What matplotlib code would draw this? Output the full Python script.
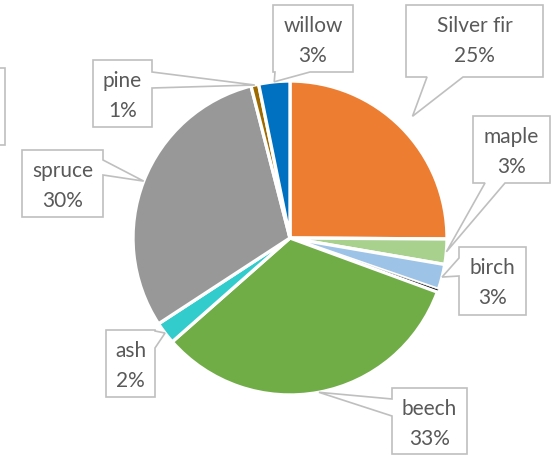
import numpy as np
import matplotlib
matplotlib.use("Agg")
import matplotlib.pyplot as plt
from matplotlib.patches import Polygon

# ---- data ----
species = ["Silver fir", "maple", "birch", "", "beech", "ash", "spruce", "pine", "willow"]
values = [25.1, 2.6, 2.6, 0.3, 32.9, 2.3, 30.2, 0.8, 3.2]
colors = ["#ED7D31", "#A9D18E", "#9DC3E6", "#000000", "#70AD47",
          "#33CCCC", "#989898", "#9E6A00", "#0070C0"]

# ---- layout (pixel coordinates, y down) ----
W, H = 556, 455
center = (290, 238)
radius = 157
# box (x0, y0, x1, y1), pointer side, base a, base b, tip radius factor
boxes = {
    "Silver fir": ((406, 5, 543, 77), "bottom", 427, 463, 1.10),
    "maple": ((473, 116, 550, 183), "bottom", 485, 505, 1.0),
    "birch": ((459, 247, 526, 315), "left", 258, 276, 1.0),
    "beech": ((392, 388, 467, 454), "left", 399, 416, 1.0),
    "ash": ((106, 330, 155, 397), "right", 331, 348, 1.0),
    "spruce": ((22, 150, 103, 217), "right", 160, 175, 1.0),
    "pine": ((93, 60, 152, 127), "right", 72, 88, 1.0),
    "willow": ((273, 5, 353, 72), "bottom", 275, 310, 1.0),
}

fig = plt.figure(figsize=(W / 100, H / 100), dpi=100)
ax = fig.add_axes([0, 0, 1, 1])

wedges, _ = ax.pie(values, colors=colors, startangle=-90, counterclock=True,
                   center=center, radius=radius,
                   wedgeprops=dict(edgecolor="white", linewidth=2.4))
for w, name in zip(wedges, species):
    if name == "":
        w.set_linewidth(0.5)

ax.set_xlim(0, W)
ax.set_ylim(H, 0)
ax.set_aspect("equal")
ax.axis("off")

total = sum(values)
edge_c = "#BFBFBF"
text_c = "#595959"
font = ["Lato", "DejaVu Sans"]


def callout(box, side, a, b, tip):
    x0, y0, x1, y1 = box
    tx, ty = tip
    if side == "top":
        pts = [(x0, y0), (a, y0), (tx, ty), (b, y0), (x1, y0), (x1, y1), (x0, y1)]
    elif side == "right":
        pts = [(x0, y0), (x1, y0), (x1, a), (tx, ty), (x1, b), (x1, y1), (x0, y1)]
    elif side == "bottom":
        pts = [(x0, y0), (x1, y0), (x1, y1), (b, y1), (tx, ty), (a, y1), (x0, y1)]
    else:
        pts = [(x0, y0), (x1, y0), (x1, y1), (x0, y1), (x0, b), (tx, ty), (x0, a)]
    ax.add_patch(Polygon(pts, closed=True, facecolor="white", edgecolor=edge_c,
                         linewidth=1.2, zorder=3))


for w, name, v in zip(wedges, species, values):
    if name not in boxes:
        continue
    box, side, a, b, k = boxes[name]
    mid = np.deg2rad((w.theta1 + w.theta2) / 2)
    cx, cy = w.center
    tip = (cx + w.r * k * np.cos(mid), cy + w.r * k * np.sin(mid))
    callout(box, side, a, b, tip)
    x0, y0, x1, y1 = box
    xm = (x0 + x1) / 2
    ax.text(xm, y0 + 21, name, ha="center", va="center", fontsize=15,
            color=text_c, family=font, zorder=4)
    ax.text(xm, y0 + 51, f"{round(v / total * 100)}%", ha="center", va="center",
            fontsize=15, color=text_c, family=font, zorder=4)

# label box of the tiny slice, dragged off the left edge
ax.add_patch(Polygon([(-80, 68), (5, 68), (5, 145), (-80, 145)], closed=True,
                     facecolor="white", edgecolor=edge_c, linewidth=1.2, zorder=3,
                     clip_on=True))

fig.savefig("out.png", dpi=100)
